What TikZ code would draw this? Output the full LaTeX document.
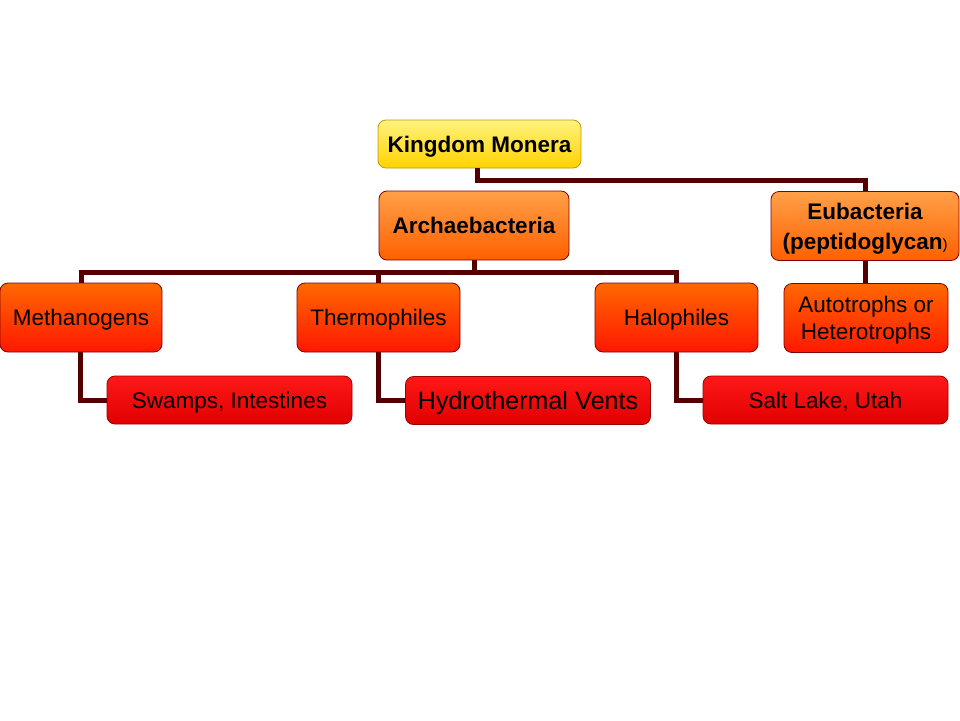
\documentclass[tikz,border=0pt]{standalone}
\usepackage{fontspec}
\setmainfont{Liberation Sans}
\begin{document}
\begin{tikzpicture}[x=1pt,y=-1pt,
  box/.style={rectangle,rounded corners=8pt,draw=#1,line width=0.8pt,inner sep=2pt,align=center,text=black,
    font=\fontsize{22.5}{27}\selectfont},
  capc/.style={text height=16.1pt,text depth=0pt},
  kbox/.style={box=black!60!red!40!yellow,shade,top color=yellow!45!white!90!orange,bottom color=orange!35!yellow,minimum width=203pt,minimum height=48pt,font=\bfseries\fontsize{22.5}{27}\selectfont},
  abox/.style={box=red!50!black,shade,top color={rgb,255:red,255;green,160;blue,72},bottom color={rgb,255:red,255;green,96;blue,0},minimum height=69pt,font=\bfseries\fontsize{22.5}{27}\selectfont},
  mbox/.style={box=red!50!black,shade,top color={rgb,255:red,255;green,104;blue,0},bottom color={rgb,255:red,255;green,24;blue,0},minimum width=163pt,minimum height=69pt},
  lbox/.style={box=red!60!black,shade,top color={rgb,255:red,255;green,24;blue,24},bottom color={rgb,255:red,224;green,0;blue,0},minimum width=245pt,minimum height=48pt},
  conn/.style={draw={rgb,255:red,85;green,0;blue,0},line width=5pt}]
\useasboundingbox (0,0) rectangle (960,720);
\fill[white] (0,0) rectangle (960,720);
\coordinate (busA) at (0,180);
\coordinate (busB) at (0,272);
\node[kbox,capc] (k) at (479.5,144) {Kingdom Monera};
\node[abox,capc,minimum width=190pt] (ar) at (474,225.5) {Archaebacteria};
\node[abox,minimum width=188pt,font=\bfseries\fontsize{22.5}{30}\selectfont] (eu) at (865,226) {\rule{0pt}{22.5pt}Eubacteria\\(peptidoglycan{\mdseries\fontsize{15}{18}\selectfont)}};
\node[mbox,capc,minimum width=162pt] (me) at (81,317.5) {Methanogens};
\node[mbox,capc] (th) at (378.5,317.5) {Thermophiles};
\node[mbox,capc] (ha) at (676.5,317.5) {Halophiles};
\node[mbox,minimum width=164pt,font=\fontsize{22.5}{27}\selectfont] (au) at (866,318) {\rule{0pt}{21pt}Autotrophs or\\Heterotrophs};
\node[lbox,capc] (sw) at (229.5,400) {Swamps, Intestines};
\node[lbox,font=\fontsize{25}{28}\selectfont,text height=17.9pt,text depth=0pt] (hy) at (528,400.5) {Hydrothermal\hspace{0.3em}Vents};
\node[lbox,capc] (sl) at (825.5,400) {Salt Lake, Utah};
\draw[conn] ([xshift=-2pt]k.south) -- ([xshift=-2pt]k.south |- busA) -| (eu.north);
\draw[conn] (ar.south) -- (ar.south |- busB);
\draw[conn] (me.north) -- (me.north |- busB) -- (ha.north |- busB) -- (ha.north);
\draw[conn] (th.north) -- (th.north |- busB);
\draw[conn] (eu.south) -- (eu.south |- au.north);
\draw[conn] ([xshift=-1pt]me.south) |- (sw.west);
\draw[conn] (th.south) |- (hy.west);
\draw[conn] (ha.south) |- (sl.west);
\end{tikzpicture}
\end{document}
